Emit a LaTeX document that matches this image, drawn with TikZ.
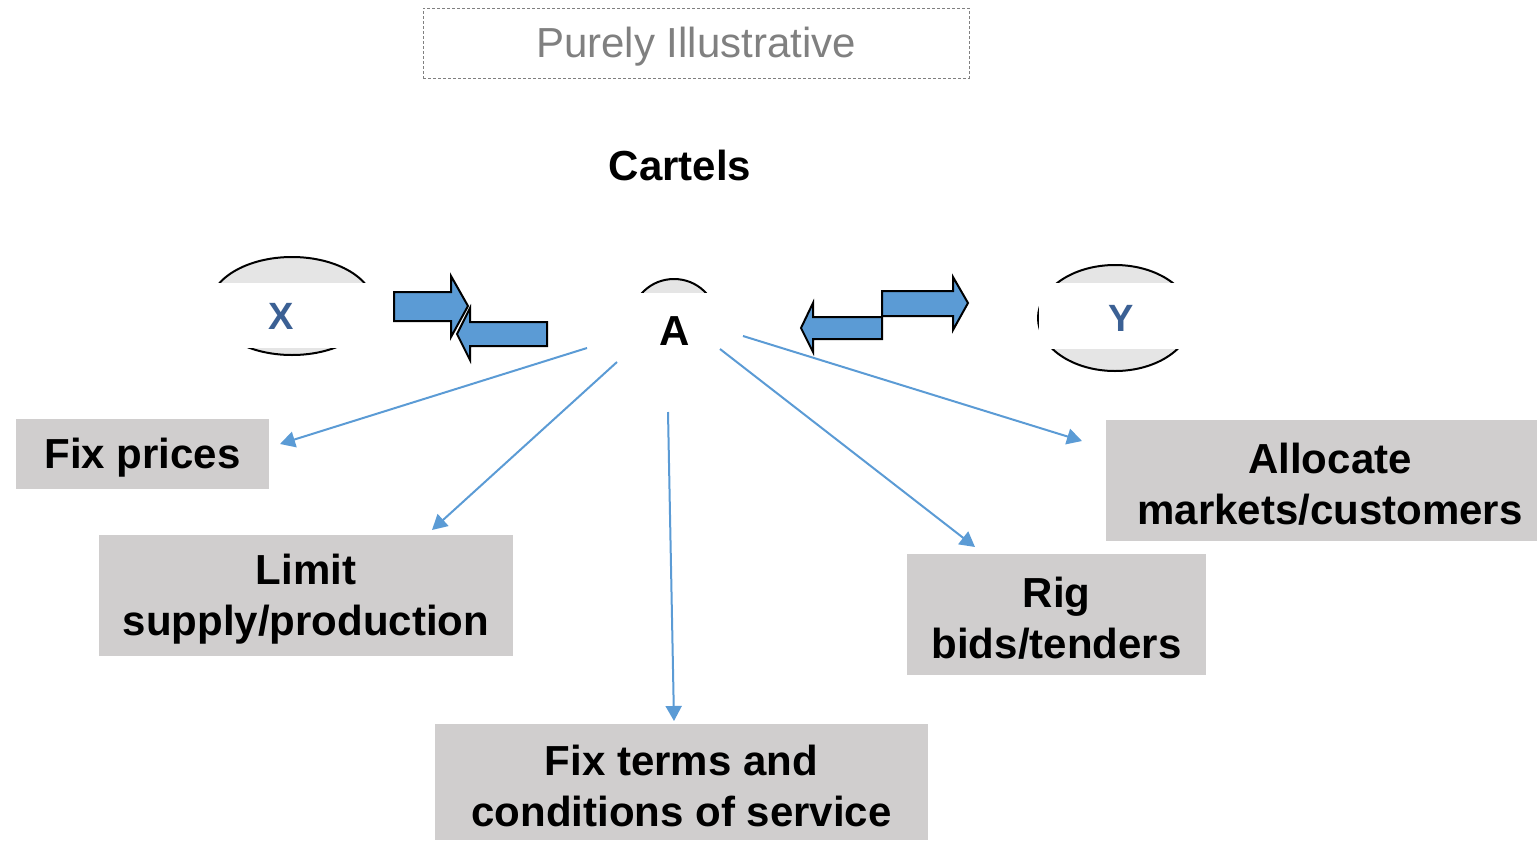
\documentclass[tikz,border=0pt]{standalone}
\usepackage{fontspec}
\setmainfont{Liberation Sans}
\usetikzlibrary{arrows.meta}
\definecolor{boxgray}{RGB}{208,206,206}
\definecolor{ellgray}{RGB}{229,229,229}
\definecolor{blockblue}{RGB}{91,155,213}
\definecolor{linkblue}{RGB}{91,155,213}
\definecolor{letterblue}{RGB}{59,96,148}
\definecolor{notegray}{RGB}{128,128,128}
\tikzset{
  catbox/.style={fill=boxgray, draw=none, inner sep=0pt},
  cattext/.style={align=center, inner sep=0pt, font=\fontsize{42}{51}\selectfont\bfseries},
  firm/.style={fill=ellgray, draw=black, line width=2pt},
  cover/.style={fill=white, draw=none},
  letter/.style={inner sep=0pt, text=letterblue, font=\fontsize{38}{40}\selectfont\bfseries},
  blockarrow/.style={fill=blockblue, draw=black, line width=2pt, line join=miter},
  link/.style={draw=linkblue, line width=2pt, -{Triangle[length=15pt,width=16pt]}},
}
\begin{document}
\begin{tikzpicture}[x=1pt,y=-1pt]
\useasboundingbox (0,0) rectangle (1537,841);

% note box
\node[draw=notegray, dashed, dash pattern=on 3pt off 2pt, line width=1pt,
  minimum width=546pt, minimum height=70pt, inner sep=0pt] (note) at (696,43) {};
\node[inner sep=0pt, text=notegray, font=\fontsize{42}{44}\selectfont] (notetext) at (696,47) {Purely Illustrative};

% title
\node[inner sep=0pt, font=\fontsize{42}{44}\selectfont\bfseries] (title) at (680,165) {Cartels};

% firm ellipses, partly covered
\draw[firm] (292,306) ellipse [x radius=82, y radius=49];
\fill[cover] (200,283) rectangle (385,348);
\draw[firm] (674,319) ellipse [x radius=42, y radius=40];
\fill[cover] (615,293) rectangle (735,368);
\draw[firm] (1115,318) ellipse [x radius=77, y radius=53];
\fill[cover] (1039,283) rectangle (1200,349);

\node[letter] (X) at (281,316) {X};
\node[inner sep=0pt, font=\fontsize{42}{44}\selectfont\bfseries] (A) at (675,331) {A};
\node[letter] (Y) at (1121,318) {Y};

% block arrows between X and A
\draw[blockarrow] (394,292) -- (451,292) -- (451,276) -- (468,306) -- (451,337) -- (451,321) -- (394,321) -- cycle;
\draw[blockarrow] (547,322) -- (470,322) -- (470,308) -- (457,334) -- (470,360) -- (470,346) -- (547,346) -- cycle;
% block arrows between A and Y
\draw[blockarrow] (882,291) -- (953,291) -- (953,277) -- (968,303) -- (953,330) -- (953,316) -- (882,316) -- cycle;
\draw[blockarrow] (882,317) -- (813,317) -- (813,303) -- (801,328) -- (813,352) -- (813,339) -- (882,339) -- cycle;

% category boxes
\node[catbox, minimum width=253pt, minimum height=70pt] (fix) at (142.5,454) {};
\node[cattext] (fixtext) at (142.5,458) {Fix prices};
\node[catbox, minimum width=414pt, minimum height=121pt] (limit) at (306,595.5) {};
\node[cattext] (limittext) at (306,599) {Limit\\supply/production};
\node[catbox, minimum width=493pt, minimum height=116pt] (terms) at (681.5,782) {};
\node[cattext] (termstext) at (681.5,786) {Fix terms and\\conditions of service};
\node[catbox, minimum width=299pt, minimum height=121pt] (rig) at (1056.5,614.5) {};
\node[cattext] (rigtext) at (1056.5,618) {Rig\\bids/tenders};
\node[catbox, minimum width=431pt, minimum height=121pt] (alloc) at (1321.5,480.5) {};
\node[cattext] (alloctext) at (1330,484) {Allocate\\markets/customers};

% connectors from A
\coordinate (s1) at (587,348); \coordinate (e1) at (280,444);
\coordinate (s2) at (617,362); \coordinate (e2) at (432,530);
\coordinate (s3) at (668,412); \coordinate (e3) at (674,721);
\coordinate (s4) at (720,349); \coordinate (e4) at (975,547);
\coordinate (s5) at (743,336); \coordinate (e5) at (1082,441);
\draw[link] (s1) -- (e1);
\draw[link] (s2) -- (e2);
\draw[link] (s3) -- (e3);
\draw[link] (s4) -- (e4);
\draw[link] (s5) -- (e5);
\end{tikzpicture}
\end{document}
